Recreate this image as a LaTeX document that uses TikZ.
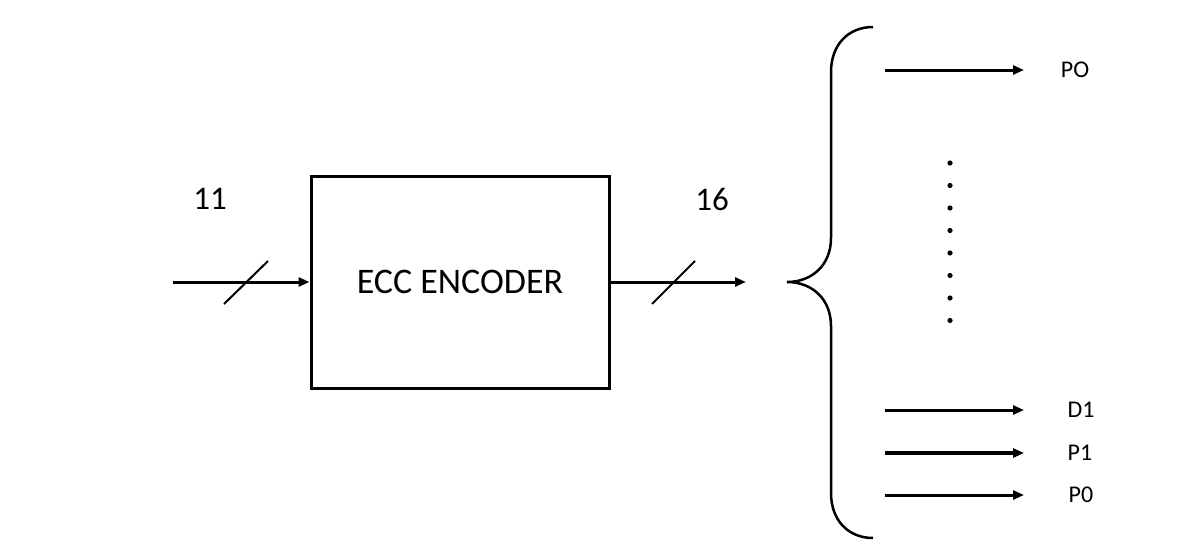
\documentclass[tikz,border=0pt]{standalone}
\usepackage{fontspec}
\setmainfont{Carlito}
\usetikzlibrary{arrows.meta,positioning,calc}

\begin{document}
\begin{tikzpicture}[
    x=1pt, y=-1pt,
    block/.style={
      rectangle, draw, line width=3pt,
      minimum width=298pt, minimum height=212pt,
      font=\fontsize{36}{40}\selectfont
    },
    bus_label/.style={font=\fontsize{33}{38}\selectfont},
    bit_label/.style={font=\fontsize{24}{28}\selectfont},
    signal/.style={draw, line width=3pt, -{Triangle[length=11pt,width=9pt]}},
    slash/.style={draw, line width=2pt}
  ]
  \useasboundingbox (0,0) rectangle (1184,552);
  % encoder block and buses
  \node[block] (enc) at (460,282) {ECC ENCODER};
  \coordinate (bus_in) at (173,282);
  \coordinate (bus_out) at (746,282);
  \node[bus_label] (w_in) at (210,199) {11};
  \node[bus_label] (w_out) at (712,199) {16};
  \draw[signal] (bus_in) -- (enc.west);
  \draw[signal] (enc.east) -- (bus_out);
  \draw[slash] (224,304) -- (268,261);
  \draw[slash] (652,304) -- (695,261);
  % brace
  \draw[line width=2.5pt] (873,27) .. controls (848,27) and (831,45) .. (831,72)
    -- (831,238) .. controls (831,265) and (812,282) .. (787,282)
    .. controls (812,282) and (831,299) .. (831,326)
    -- (831,493) .. controls (831,520) and (848,538) .. (873,538);
  % output bits
  \node[bit_label] (po) at (1075,70) {PO};
  \node[bit_label] (d1) at (1081,410) {D1};
  \node[bit_label] (p1) at (1080,453) {P1};
  \node[bit_label] (p0) at (1081,495) {P0};
  \draw[signal] (885,70) -- (1024,70);
  \draw[signal] (885,410) -- (1024,410);
  \draw[signal, line width=4pt] (885,453) -- (1024,453);
  \draw[signal] (885,495) -- (1024,495);
  \foreach \i in {0,...,7}
    \fill (950,163+22.5*\i) circle (2.6pt);
\end{tikzpicture}
\end{document}
